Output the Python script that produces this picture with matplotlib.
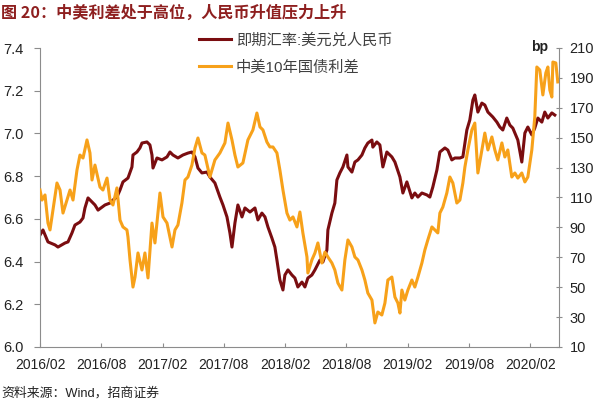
import matplotlib
matplotlib.use("Agg")
import matplotlib.pyplot as plt

plt.rcParams['font.family'] = ['Liberation Sans', 'Noto Sans CJK SC']

# x values: months since 2016/02
fx_month = [0.0, 0.29, 0.78, 1.47, 1.76, 2.45, 2.74, 3.13, 3.42, 3.91, 4.21, 4.40, 4.70, 5.09,
            5.38, 5.68, 6.07, 6.36, 6.85, 7.14, 7.53, 7.83, 8.12, 8.61, 9.00, 9.10, 9.49, 9.78,
            9.98, 10.47, 10.76, 10.96, 11.06, 11.45, 11.94, 12.43, 12.72, 13.01, 13.50, 13.99,
            14.48, 14.87, 15.17, 15.46, 15.85, 16.34, 16.63, 17.12, 17.61, 17.91, 18.30, 18.59,
            18.79, 19.08, 19.37, 19.77, 20.06, 20.55, 21.04, 21.33, 21.72, 22.02, 22.31, 22.70,
            22.99, 23.19, 23.48, 23.78, 23.97, 24.27, 24.66, 24.95, 25.24, 25.64, 25.93, 26.22,
            26.61, 26.91, 27.40, 27.69, 28.08, 28.18, 28.57, 28.86, 29.06, 29.35, 29.65, 30.04,
            30.14, 30.53, 30.82, 31.12, 31.51, 31.80, 32.09, 32.49, 32.58, 32.97, 33.27, 33.56,
            33.95, 34.44, 34.74, 35.23, 35.52, 35.91, 36.40, 36.69, 36.99, 37.38, 37.87, 38.16,
            38.45, 38.85, 39.14, 39.63, 39.92, 40.31, 40.61, 41.10, 41.39, 41.78, 42.07, 42.37,
            42.56, 42.86, 43.25, 43.54, 43.84, 44.32, 44.72, 45.01, 45.30, 45.69, 45.99, 46.28,
            46.77, 47.16, 47.46, 47.75, 48.14, 48.43, 48.73, 49.12, 49.41, 49.71, 50.10, 50.39]
fx_rate = [6.524, 6.548, 6.492, 6.478, 6.468, 6.487, 6.492, 6.534, 6.571, 6.585, 6.604, 6.651,
           6.698, 6.679, 6.665, 6.641, 6.655, 6.665, 6.674, 6.688, 6.702, 6.735, 6.773, 6.791,
           6.843, 6.899, 6.913, 6.932, 6.955, 6.960, 6.946, 6.899, 6.838, 6.885, 6.876, 6.890,
           6.913, 6.899, 6.885, 6.899, 6.908, 6.913, 6.890, 6.838, 6.815, 6.819, 6.796, 6.768,
           6.702, 6.665, 6.609, 6.534, 6.468, 6.581, 6.665, 6.609, 6.651, 6.632, 6.651, 6.595,
           6.627, 6.609, 6.562, 6.510, 6.468, 6.407, 6.314, 6.267, 6.337, 6.361, 6.337, 6.323,
           6.281, 6.304, 6.281, 6.323, 6.337, 6.361, 6.407, 6.398, 6.454, 6.548, 6.627, 6.674,
           6.782, 6.815, 6.843, 6.899, 6.843, 6.819, 6.866, 6.876, 6.899, 6.932, 6.955, 6.969,
           6.936, 6.960, 6.946, 6.843, 6.913, 6.890, 6.866, 6.796, 6.721, 6.773, 6.698, 6.721,
           6.702, 6.721, 6.712, 6.702, 6.749, 6.829, 6.913, 6.932, 6.922, 6.876, 6.885, 6.885,
           6.890, 7.016, 7.063, 7.156, 7.180, 7.100, 7.142, 7.133, 7.100, 7.077, 7.053, 7.030,
           7.016, 7.072, 7.039, 7.025, 6.969, 6.866, 7.002, 7.030, 6.993, 7.025, 7.072, 7.053,
           7.100, 7.072, 7.096, 7.086]

spread_month = [0.0, 0.2, 0.49, 0.78, 0.98, 1.27, 1.66, 1.96, 2.25, 2.64, 2.94, 3.23, 3.62, 3.91,
                4.21, 4.60, 4.89, 5.09, 5.38, 5.87, 6.16, 6.56, 6.85, 7.14, 7.53, 7.83, 8.12, 8.51,
                8.61, 8.81, 9.10, 9.30, 9.59, 9.98, 10.27, 10.57, 10.96, 11.25, 11.74, 12.04, 12.43,
                12.72, 12.92, 13.21, 13.50, 13.89, 14.19, 14.48, 14.87, 15.17, 15.46, 15.85, 16.14,
                16.63, 17.12, 17.61, 18.10, 18.40, 18.79, 19.08, 19.37, 19.86, 20.35, 20.84, 21.23,
                21.53, 21.82, 22.21, 22.50, 22.80, 23.19, 23.48, 23.78, 24.17, 24.46, 24.76, 25.15,
                25.44, 25.73, 26.13, 26.22, 26.61, 26.91, 27.20, 27.59, 27.89, 28.18, 28.57, 28.86,
                29.16, 29.55, 29.84, 30.14, 30.53, 30.82, 31.12, 31.51, 31.80, 32.09, 32.49, 32.78,
                33.07, 33.46, 33.76, 34.05, 34.44, 34.74, 35.03, 35.23, 35.42, 35.71, 36.01, 36.40,
                36.69, 36.99, 37.38, 37.67, 37.96, 38.36, 38.65, 38.94, 39.14, 39.43, 39.82, 40.12,
                40.41, 40.80, 41.10, 41.39, 41.59, 41.88, 42.27, 42.56, 42.86, 43.25, 43.54, 43.84,
                44.23, 44.52, 44.81, 45.21, 45.50, 45.79, 46.18, 46.48, 46.77, 47.16, 47.46, 47.75,
                48.14, 48.43, 48.63, 48.92, 49.22, 49.51, 49.71, 49.90, 50.10, 50.20, 50.49, 50.68]
spread_bp = [115.0, 108.3, 111.7, 92.9, 88.3, 101.6, 119.7, 115.0, 99.6, 108.3, 115.0, 108.3,
             128.4, 138.4, 136.4, 148.5, 139.8, 121.7, 131.7, 117.0, 115.0, 123.0, 108.3, 105.0,
             116.4, 94.9, 90.3, 88.3, 83.6, 68.2, 50.1, 56.8, 72.9, 61.5, 72.9, 56.2, 92.9, 79.6,
             113.0, 97.0, 92.9, 83.6, 76.9, 88.3, 91.6, 106.3, 121.7, 123.7, 131.7, 143.1, 149.8,
             139.8, 138.4, 123.7, 135.1, 139.8, 146.5, 159.8, 148.5, 138.4, 130.4, 133.1, 148.5,
             155.2, 166.5, 157.2, 155.2, 147.1, 143.8, 143.8, 139.8, 128.4, 115.0, 99.6, 94.9,
             97.0, 90.3, 100.3, 86.3, 70.2, 59.5, 68.2, 72.9, 79.6, 66.2, 73.5, 70.2, 66.2, 61.5,
             52.8, 48.1, 68.2, 81.6, 76.9, 70.2, 68.2, 61.5, 54.8, 46.1, 41.4, 26.1, 33.4, 31.4,
             39.4, 54.8, 56.8, 43.4, 39.4, 32.7, 48.1, 41.4, 48.1, 54.8, 50.1, 56.8, 66.2, 74.9,
             81.6, 90.3, 88.3, 86.3, 99.6, 103.6, 113.0, 123.7, 119.7, 106.3, 108.3, 119.7, 130.4,
             141.8, 155.2, 159.8, 126.4, 141.8, 153.1, 141.8, 150.5, 141.8, 135.1, 146.5, 137.1,
             141.8, 123.7, 126.4, 123.0, 126.4, 120.4, 123.7, 141.8, 163.8, 197.3, 195.3, 178.6,
             193.3, 197.3, 181.9, 177.2, 200.6, 200.0, 187.3]

tick_pos = [0, 6, 12, 18, 24, 30, 36, 42, 48]
tick_labels = ["2016/02", "2016/08", "2017/02", "2017/08", "2018/02",
               "2018/08", "2019/02", "2019/08", "2020/02"]
left_ticks = [6.0, 6.2, 6.4, 6.6, 6.8, 7.0, 7.2, 7.4]
right_ticks = [10, 30, 50, 70, 90, 110, 130, 150, 170, 190, 210]

dark = "#7a0d10"
orange = "#f7a11a"
spine = "#8c8c8c"
txt = "#222222"

fig = plt.figure(figsize=(6.0, 4.04), dpi=100)
ax = fig.add_axes([40 / 600, 1 - 347 / 404, 519 / 600, 299 / 404])
ax2 = ax.twinx()

l1, = ax.plot(fx_month, fx_rate, color=dark, lw=2.2, label="即期汇率:美元兑人民币")
l2, = ax2.plot(spread_month, spread_bp, color=orange, lw=2.2, label="中美10年国债利差")

ax.set_xlim(0, 50.8)
ax.set_ylim(6.0, 7.4)
ax2.set_ylim(10, 210)
ax.set_xticks(tick_pos)
ax.set_xticklabels(tick_labels)
ax.set_yticks(left_ticks)
ax.set_yticklabels([f"{v:.1f}" for v in left_ticks])
ax2.set_yticks(right_ticks)

for a in (ax, ax2):
    a.spines['top'].set_visible(False)
    for s in ('left', 'right', 'bottom'):
        a.spines[s].set_color(spine)
        a.spines[s].set_linewidth(0.8)
ax.spines['right'].set_visible(False)
ax2.spines['left'].set_visible(False)
ax2.spines['bottom'].set_visible(False)

ax.tick_params(axis='y', direction='out', length=4, width=0.8, color=spine,
               labelsize=10.5, labelcolor=txt, pad=8)
ax.tick_params(axis='x', direction='in', length=3, width=0.8, color=spine,
               labelsize=10, labelcolor=txt, pad=8)
ax2.tick_params(axis='y', direction='inout', length=5, width=0.8, color=spine,
                labelsize=10.5, labelcolor=txt, pad=5)

fig.legend(handles=[l1, l2], loc='upper left', bbox_to_anchor=(199 / 600, 1 - 33 / 404),
           frameon=False, fontsize=11, handlelength=2.1, handletextpad=0.3,
           labelspacing=0.85, borderpad=0, borderaxespad=0, labelcolor="#404040")

fig.text(548 / 600, 1 - 47 / 404, "bp", ha='right', va='center', fontsize=10,
         fontweight='bold', color=txt)
fig.text(1 / 600, 1 - 13 / 404, "图 20：中美利差处于高位，人民币升值压力上升",
         ha='left', va='center', fontsize=11.6, fontweight='bold', color="#8e1f1f",
         family=['Noto Sans CJK SC'])
fig.text(1 / 600, 1 - 393 / 404, "资料来源：Wind，招商证券", ha='left', va='center',
         fontsize=9.3, color=txt)

fig.savefig("out.png", dpi=100)
